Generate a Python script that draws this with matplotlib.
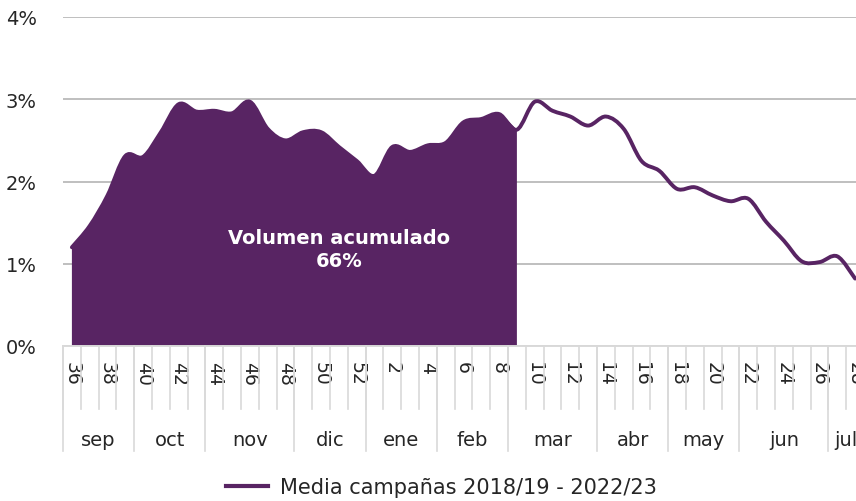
import numpy as np
import matplotlib
matplotlib.use("Agg")
import matplotlib.pyplot as plt
from matplotlib.path import Path
from matplotlib.patches import PathPatch
from matplotlib.lines import Line2D

# semanas de campaña (sep -> jul)
weeks = list(range(36, 53)) + list(range(1, 29))
# % semanal medio, campañas 2018/19 - 2022/23
share = [1.20, 1.46, 1.83, 2.31, 2.30, 2.60, 2.94, 2.85, 2.86, 2.83,
         2.97, 2.64, 2.50, 2.60, 2.60, 2.42, 2.25, 2.07, 2.42, 2.36,
         2.44, 2.47, 2.72, 2.76, 2.82, 2.63, 2.97, 2.86, 2.79, 2.68,
         2.79, 2.64, 2.25, 2.13, 1.91, 1.93, 1.83, 1.76, 1.79, 1.51,
         1.28, 1.03, 1.02, 1.09, 0.82]
months = ["sep", "oct", "nov", "dic", "ene", "feb", "mar", "abr", "may", "jun", "jul"]
month_weeks = [4, 4, 5, 4, 4, 4, 5, 4, 4, 5, 2]
n_acum = 26  # semanas 36..9 -> volumen acumulado
label_acum = "Volumen acumulado\n66%"
legend_label = "Media campañas 2018/19 - 2022/23"

purple = "#582463"
grid_c = "#bfbfbf"
sep_c = "#d9d9d9"
txt_c = "#262626"
plt.rcParams["font.family"] = ["DejaVu Sans"]


def smooth_path(x, y):
    # curva suave tipo Excel (Catmull-Rom -> Bezier)
    pts = np.column_stack([x, y]).astype(float)
    n = len(pts)
    verts = [pts[0]]
    codes = [Path.MOVETO]
    for i in range(n - 1):
        p0 = pts[i - 1] if i > 0 else pts[i]
        p1 = pts[i]
        p2 = pts[i + 1]
        p3 = pts[i + 2] if i + 2 < n else pts[i + 1]
        c1 = p1 + (p2 - p0) / 6.0
        c2 = p2 - (p3 - p1) / 6.0
        verts += [c1, c2, p2]
        codes += [Path.CURVE4] * 3
    return verts, codes


fig = plt.figure(figsize=(8.56, 5.02), dpi=100)
ax = fig.add_axes([63 / 856, 155 / 502, 801 / 856, 329 / 502])

x = np.arange(len(share))

# area rellena
v, c = smooth_path(x[:n_acum], share[:n_acum])
v += [(x[n_acum - 1], 0), (x[0], 0), (x[0], share[0])]
c += [Path.LINETO, Path.LINETO, Path.CLOSEPOLY]
ax.add_patch(PathPatch(Path(v, c), facecolor=purple, edgecolor="none", zorder=2))

# linea completa
v, c = smooth_path(x, share)
ax.add_patch(PathPatch(Path(v, c), facecolor="none", edgecolor=purple, lw=2.8,
                       capstyle="round", joinstyle="round", zorder=3))

ax.set_xlim(-0.5, len(share) - 0.5)
ax.set_ylim(0, 4)
ax.set_yticks([0, 1, 2, 3, 4])
ax.set_yticklabels([f"{v}%" for v in range(5)], fontsize=14, color=txt_c)
ax.yaxis.grid(True, color=grid_c, lw=1.4, zorder=0)
ax.tick_params(axis="y", length=0, pad=19)
for s in ["top", "right", "left"]:
    ax.spines[s].set_visible(False)
ax.spines["bottom"].set_color(sep_c)
ax.spines["bottom"].set_linewidth(1.4)

# etiquetas semanas
ax.set_xticks(x[::2])
ax.set_xticklabels([str(w) for w in weeks[::2]], rotation=270, fontsize=13.5,
                   color=txt_c, va="top", ha="center")
ax.tick_params(axis="x", length=0, pad=11)

# separadores de categoria y meses
tr = ax.get_xaxis_transform()
for b in np.arange(-0.5, len(share), 1.0):
    ax.add_line(Line2D([b, b], [0, -0.19], transform=tr, color=sep_c, lw=1.2, clip_on=False))
edges = np.concatenate([[0], np.cumsum(month_weeks)]) - 0.5
for b in edges:
    ax.add_line(Line2D([b, b], [0, -0.32], transform=tr, color=sep_c, lw=1.2, clip_on=False))
for m, a, b in zip(months, edges[:-1], edges[1:]):
    ax.text((a + b) / 2, -0.283, m, transform=tr, ha="center", va="center",
            fontsize=14, color=txt_c, clip_on=False)

ax.text(15, 1.18, label_acum, ha="center", va="center", color="white",
        fontsize=14, fontweight="bold", linespacing=1.25, zorder=4)

handle = Line2D([], [], color=purple, lw=3)
fig.legend([handle], [legend_label], loc="center", bbox_to_anchor=(0.516, 0.028),
           frameon=False, fontsize=15, handlelength=2.0, handletextpad=0.6,
           labelcolor=txt_c)

fig.savefig("out.png", dpi=100)
